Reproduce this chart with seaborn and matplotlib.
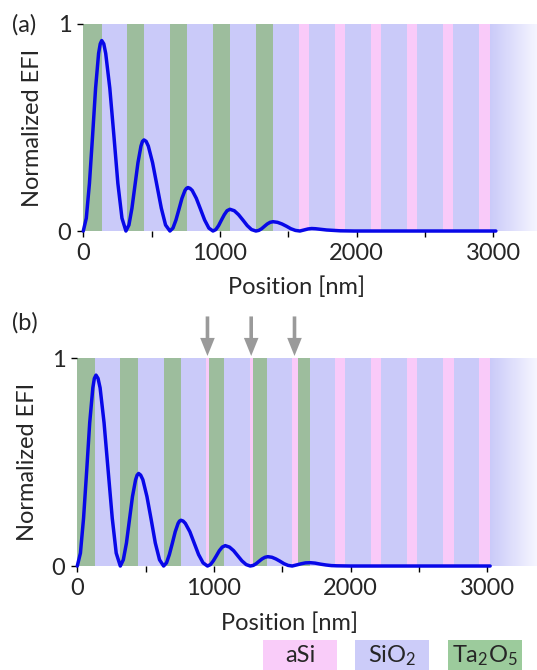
import numpy as np
import matplotlib
matplotlib.use("Agg")
import matplotlib.pyplot as plt
from matplotlib.patches import Rectangle
from matplotlib.ticker import MultipleLocator
import seaborn as sns

sns.set_theme(style="ticks")
plt.rcParams["font.family"] = ["Lato", "DejaVu Sans"]
plt.rcParams["mathtext.default"] = "regular"

# layer stack (a): boundaries in nm, one material per layer
edges_a = [0, 137, 320, 444, 634, 761, 947, 1073, 1263, 1390, 1580, 1655,
           1842, 1917, 2103, 2179, 2366, 2443, 2630, 2707, 2893, 2975]
mats_a = ["Ta2O5", "SiO2", "Ta2O5", "SiO2", "Ta2O5", "SiO2", "Ta2O5", "SiO2",
          "Ta2O5", "SiO2", "aSi", "SiO2", "aSi", "SiO2", "aSi", "SiO2",
          "aSi", "SiO2", "aSi", "SiO2", "aSi"]

# layer stack (b): with thin aSi inserts
edges_b = [0, 132, 315, 444, 632, 759, 944, 961, 1075, 1266, 1283, 1388,
           1571, 1615, 1700, 1888, 1963, 2149, 2224, 2412, 2490, 2676,
           2754, 2939, 3022]
mats_b = ["Ta2O5", "SiO2", "Ta2O5", "SiO2", "Ta2O5", "SiO2", "aSi", "Ta2O5",
          "SiO2", "aSi", "Ta2O5", "SiO2", "aSi", "Ta2O5", "SiO2", "aSi",
          "SiO2", "aSi", "SiO2", "aSi", "SiO2", "aSi", "SiO2", "aSi"]
arrows_b = [953, 1273, 1590]

# normalized field intensity
pos_a = [0, 22, 45, 68, 90, 112, 124, 135, 150, 164, 194, 224, 253, 283, 312,
         334, 356, 378, 400, 422, 433, 444, 460, 476, 507, 539, 571, 602, 634,
         656, 678, 700, 722, 744, 755, 766, 781, 797, 827, 858, 888, 919, 949,
         970, 990, 1011, 1032, 1052, 1073, 1105, 1136, 1168, 1200, 1231, 1263,
         1284, 1305, 1326, 1346, 1367, 1388, 1421, 1454, 1487, 1519, 1552, 1585,
         1615, 1645, 1671, 1700, 1740, 1780, 1830, 1880, 1980, 2500, 3019]
efi_a = [0, 0.062, 0.23, 0.46, 0.69, 0.858, 0.904, 0.92, 0.904, 0.858, 0.69, 0.46, 0.23, 0.062, 0,
         0.029, 0.11, 0.22, 0.33, 0.41, 0.433, 0.44, 0.433, 0.41, 0.33, 0.22, 0.11, 0.029, 0,
         0.014, 0.053, 0.105, 0.158, 0.196, 0.206, 0.21, 0.206, 0.196, 0.158, 0.105, 0.053, 0.014, 0,
         0.007, 0.026, 0.053, 0.079, 0.098, 0.105, 0.098, 0.079, 0.053, 0.026, 0.007, 0,
         0.003, 0.011, 0.023, 0.034, 0.042, 0.045, 0.042, 0.034, 0.023, 0.011, 0.003, 0,
         0.005, 0.010, 0.012, 0.011, 0.008, 0.005, 0.003, 0.001, 0, 0, 0]

pos_b = [0, 23, 46, 69, 91, 114, 125, 137, 152, 167, 196, 226, 256, 285, 315,
         337, 360, 382, 404, 427, 438, 449, 464, 480, 510, 541, 571, 602, 632,
         653, 674, 696, 717, 738, 748, 759, 775, 791, 824, 856, 888, 921, 953,
         975, 996, 1018, 1040, 1061, 1083, 1114, 1144, 1175, 1205, 1236, 1266,
         1288, 1309, 1331, 1352, 1374, 1395, 1425, 1454, 1484, 1514, 1543, 1573,
         1610, 1640, 1670, 1705, 1740, 1780, 1820, 1860, 1900, 2000, 2500, 3022]
efi_b = [0, 0.062, 0.23, 0.459, 0.689, 0.857, 0.902, 0.918, 0.902, 0.857, 0.689, 0.459, 0.23, 0.062, 0,
         0.030, 0.111, 0.223, 0.334, 0.415, 0.437, 0.445, 0.437, 0.415, 0.334, 0.223, 0.111, 0.030, 0,
         0.015, 0.055, 0.11, 0.165, 0.205, 0.216, 0.22, 0.216, 0.205, 0.165, 0.11, 0.055, 0.015, 0,
         0.007, 0.025, 0.049, 0.074, 0.091, 0.098, 0.091, 0.074, 0.049, 0.025, 0.007, 0,
         0.003, 0.011, 0.023, 0.034, 0.042, 0.045, 0.042, 0.034, 0.023, 0.011, 0.003, 0,
         0.006, 0.011, 0.015, 0.016, 0.014, 0.009, 0.005, 0.002, 0.001, 0, 0, 0]

colors = {"aSi": "#f9caf9", "SiO2": "#cacaf9", "Ta2O5": "#9dbd9d"}
legend_colors = {"aSi": "#f9ccf9", "SiO2": "#ccccf9", "Ta2O5": "#9ccb9c"}
legend_labels = {"aSi": "aSi", "SiO2": "SiO$_2$", "Ta2O5": "Ta$_2$O$_5$"}
FS = 17


def draw_panel(ax, edges, mats, pos, efi, xmax, tag, tag_xy):
    for lo, hi, m in zip(edges[:-1], edges[1:], mats):
        ax.axvspan(lo, hi, ymin=0, ymax=1, color=colors[m], lw=0, zorder=0)
    # substrate fading out
    c0 = np.array([202, 202, 249]) / 255
    c1 = np.array([246, 246, 255]) / 255
    t = np.linspace(0, 1, 200)[None, :, None]
    grad = c0 + (c1 - c0) * t
    ax.imshow(grad, extent=[edges[-1], xmax, 0, 1], aspect="auto", zorder=0,
              interpolation="bilinear")
    sns.lineplot(x=pos, y=efi, ax=ax, color="#0808e8", linewidth=2.5,
                 sort=False, estimator=None, zorder=3, clip_on=False)
    ax.set_xlim(0, xmax)
    ax.set_ylim(0, 1)
    ax.set_yticks([0, 1])
    ax.set_yticklabels(["0", "1"])
    ax.set_xticks([0, 1000, 2000, 3000])
    ax.xaxis.set_minor_locator(MultipleLocator(500))
    ax.tick_params(axis="both", which="both", direction="out", length=4.5,
                   width=1, color="black", labelsize=FS, pad=4)
    for s in ax.spines.values():
        s.set_visible(False)
    ax.set_facecolor("white")
    ax.set_xlabel("Position [nm]", fontsize=FS)
    ax.set_ylabel("Normalized EFI", fontsize=FS)
    ax.text(tag_xy[0], tag_xy[1], tag, transform=ax.transAxes, fontsize=FS,
            ha="left", va="center")


fig = plt.figure(figsize=(5.37, 6.70), dpi=100)
ax_a = fig.add_axes([0.1551, 0.6552, 0.8449, 0.309])
ax_b = fig.add_axes([0.1439, 0.1552, 0.8561, 0.3104])

draw_panel(ax_a, edges_a, mats_a, pos_a, efi_a, 3320, "(a)", (-0.158, 0.995))
draw_panel(ax_b, edges_b, mats_b, pos_b, efi_b, 3365, "(b)", (-0.143, 1.17))
ax_a.xaxis.set_label_coords(0.47, -0.219)
ax_a.yaxis.set_label_coords(-0.088, 0.5)
ax_b.xaxis.set_label_coords(0.462, -0.221)
ax_b.yaxis.set_label_coords(-0.085, 0.5)

for x in arrows_b:
    ax_b.annotate("", xy=(x, 1.01), xytext=(x, 1.2), xycoords="data",
                  annotation_clip=False,
                  arrowprops=dict(facecolor="#9a9a9a", edgecolor="none",
                                  width=2.6, headwidth=10.5, headlength=13,
                                  shrink=0))

# material key at the bottom
for key, x0 in zip(["aSi", "SiO2", "Ta2O5"], [263, 355, 448]):
    fig.patches.append(Rectangle((x0 / 537, 0), 74 / 537, 30 / 670,
                                 transform=fig.transFigure,
                                 facecolor=legend_colors[key], edgecolor="none"))
    fig.text((x0 + 37) / 537, 0.021, legend_labels[key], fontsize=FS,
             ha="center", va="center")

fig.savefig("out.png", dpi=100, facecolor="white")
